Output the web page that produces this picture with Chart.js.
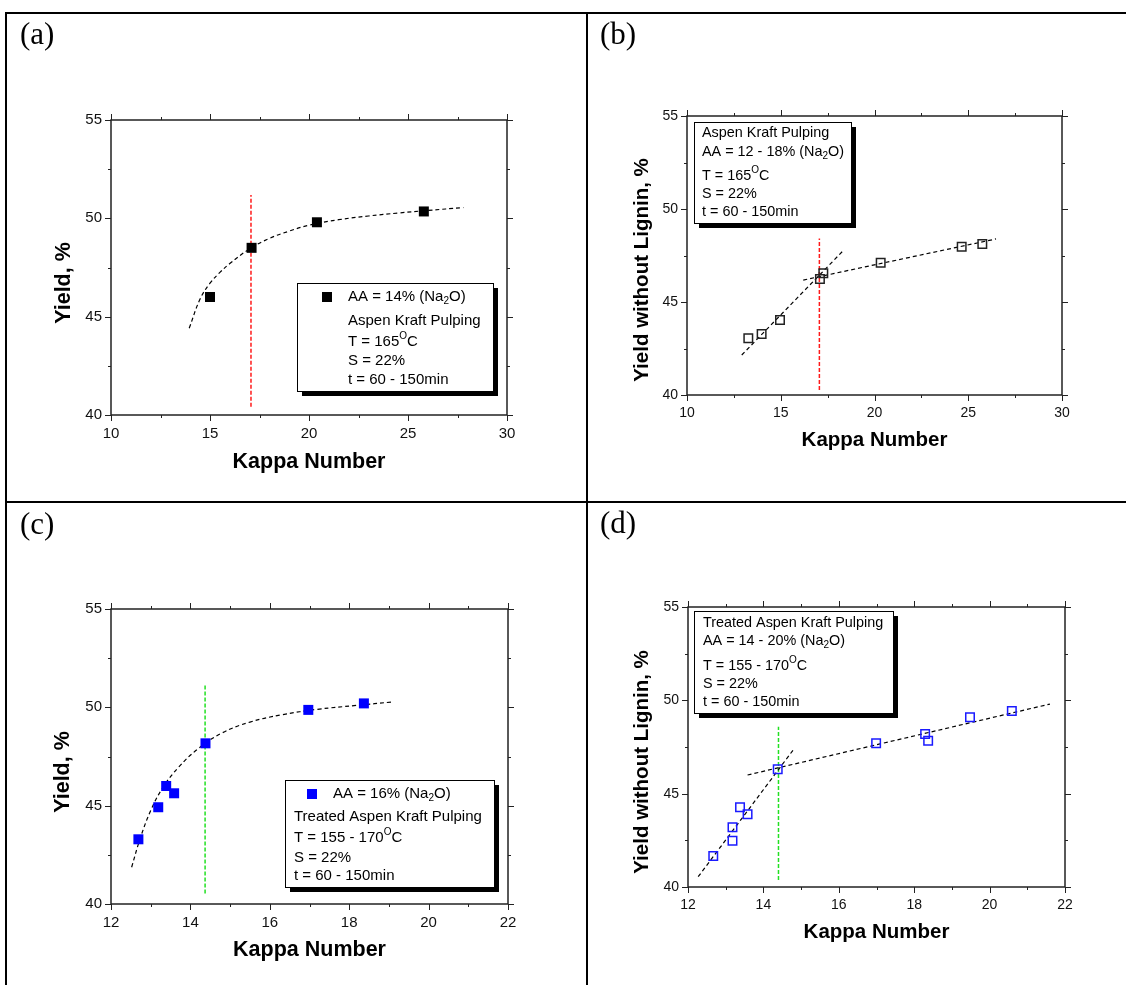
<!DOCTYPE html>
<html>
<head>
<meta charset="utf-8">
<script src="https://cdn.jsdelivr.net/npm/chart.js@4.4.0/dist/chart.umd.min.js"></script>
<style>
html, body { margin: 0; padding: 0; background: #fff; }
#page { position: relative; width: 1126px; height: 985px; overflow: hidden; background: #fff; }
#page canvas { position: absolute; left: 0; top: 0; }
.rule { position: absolute; background: #000; }
</style>
</head>
<body>
<div id="page">
  <div class="rule" style="left:5px;top:12px;width:1121px;height:2px"></div>
  <div class="rule" style="left:5px;top:12px;width:2px;height:973px"></div>
  <div class="rule" style="left:586px;top:12px;width:2px;height:973px"></div>
  <div class="rule" style="left:5px;top:501px;width:1121px;height:2px"></div>
  <canvas id="chartA" width="1126" height="985"></canvas>
  <canvas id="chartB" width="1126" height="985"></canvas>
  <canvas id="chartC" width="1126" height="985"></canvas>
  <canvas id="chartD" width="1126" height="985"></canvas>
</div>
<script>
// ---- data ----
var yTicks = [40, 45, 50, 55];
var xTicksAB = [10, 15, 20, 25, 30];
var xTicksCD = [12, 14, 16, 18, 20, 22];

// (a) yield vs kappa, AA = 14%
var kappaA = [15.0, 17.1, 20.4, 25.8];
var yieldA = [46.0, 48.5, 49.8, 50.35];
var fitKappaA = [13.95, 14.5, 15.0, 15.5, 16.0, 17.0, 18.0, 19.0, 20.0, 21.5, 23.0, 24.5, 26.0, 27.8];
var fitYieldA = [44.41, 45.9, 46.7, 47.25, 47.7, 48.45, 48.98, 49.35, 49.65, 49.93, 50.12, 50.27, 50.4, 50.55];
var markKappaA = [17.07, 17.07];
var markYieldA = [40.42, 51.19];

// (b) yield without lignin, AA = 12 - 18%
var kappaB = [13.27, 13.98, 14.96, 17.09, 17.27, 20.33, 24.65, 25.75];
var yieldB = [43.05, 43.28, 44.03, 46.24, 46.54, 47.11, 47.97, 48.12];
var steepKappaB = [12.92, 18.37];
var steepYieldB = [42.15, 47.8];
var flatKappaB = [16.2, 26.48];
var flatYieldB = [46.18, 48.39];
var markKappaB = [17.06, 17.06];
var markYieldB = [40.27, 48.42];

// (c) treated aspen, AA = 16%
var kappaC = [12.69, 13.19, 13.39, 13.59, 14.38, 16.97, 18.37];
var yieldC = [43.29, 44.92, 46.0, 45.63, 48.17, 49.87, 50.2];
var fitKappaC = [12.52, 12.73, 13.0, 13.3, 13.7, 14.2, 14.8, 15.5, 16.3, 17.2, 18.2, 19.07];
var fitYieldC = [41.87, 43.3, 44.75, 45.9, 46.95, 47.9, 48.7, 49.25, 49.62, 49.9, 50.1, 50.27];
var markKappaC = [14.37, 14.37];
var markYieldC = [40.54, 51.14];

// (d) treated aspen, yield without lignin, AA = 14 - 20%
var kappaD = [12.67, 13.18, 13.18, 13.38, 13.58, 14.38, 16.99, 18.29, 18.37, 19.48, 20.59];
var yieldD = [41.66, 42.48, 43.2, 44.27, 43.9, 46.31, 47.7, 48.2, 47.84, 49.09, 49.43];
var steepKappaD = [12.27, 14.79];
var steepYieldD = [40.55, 47.34];
var flatKappaD = [13.58, 21.6];
var flatYieldD = [46.0, 49.8];
var markKappaD = [14.40, 14.40];
var markYieldD = [40.38, 48.59];

// ---- layout (page pixels) ----
var PAGE_W = 1126, PAGE_H = 985;
var Y_AXIS_W = 50, X_AXIS_H = 30;
var FONT = '"Liberation Sans", Arial, sans-serif';
Chart.defaults.font.family = FONT;

var deco = {
  chartA: {
    area: {l: 111, t: 120, r: 507, b: 415},
    tickSize: 15, titleSize: 21.5, textSize: 15,
    tag: '(a)', tagX: 20, tagY: 44,
    yTitle: 'Yield, %', yTitleX: 64, yTitleY: 283, xTitleY: 462,
    box: {l: 297, t: 283, r: 493, b: 391},
    marker: {x: 327, y: 297, color: '#000'},
    lines: [
      {x: 348, y: 297, parts: [['AA = 14% (Na'], ['2', 'sub'], ['O)']]},
      {x: 348, y: 321, parts: [['Aspen Kraft Pulping']]},
      {x: 348, y: 342, parts: [['T = 165'], ['O', 'sup'], ['C']]},
      {x: 348, y: 361, parts: [['S = 22%']]},
      {x: 348, y: 380, parts: [['t = 60 - 150min']]}
    ]
  },
  chartB: {
    area: {l: 687, t: 116, r: 1062, b: 395},
    tickSize: 14, titleSize: 20.5, textSize: 14.4,
    tag: '(b)', tagX: 600, tagY: 44,
    yTitle: 'Yield without Lignin, %', yTitleX: 642, yTitleY: 270, xTitleY: 440,
    box: {l: 694, t: 122, r: 851, b: 223},
    lines: [
      {x: 702, y: 133, parts: [['Aspen Kraft Pulping']]},
      {x: 702, y: 152, parts: [['AA = 12 - 18% (Na'], ['2', 'sub'], ['O)']]},
      {x: 702, y: 176, parts: [['T = 165'], ['O', 'sup'], ['C']]},
      {x: 702, y: 194, parts: [['S = 22%']]},
      {x: 702, y: 212, parts: [['t = 60 - 150min']]}
    ]
  },
  chartC: {
    area: {l: 111, t: 609, r: 508, b: 904},
    tickSize: 15, titleSize: 21.5, textSize: 15,
    tag: '(c)', tagX: 20, tagY: 534,
    yTitle: 'Yield, %', yTitleX: 63, yTitleY: 772, xTitleY: 950,
    box: {l: 285, t: 780, r: 494, b: 887},
    marker: {x: 312, y: 794, color: '#0000ff'},
    lines: [
      {x: 333, y: 794, parts: [['AA = 16% (Na'], ['2', 'sub'], ['O)']]},
      {x: 294, y: 817, parts: [['Treated Aspen Kraft Pulping']]},
      {x: 294, y: 838, parts: [['T = 155 - 170'], ['O', 'sup'], ['C']]},
      {x: 294, y: 858, parts: [['S = 22%']]},
      {x: 294, y: 876, parts: [['t = 60 - 150min']]}
    ]
  },
  chartD: {
    area: {l: 688, t: 607, r: 1065, b: 887},
    tickSize: 14, titleSize: 20.5, textSize: 14.4,
    tag: '(d)', tagX: 600, tagY: 533,
    yTitle: 'Yield without Lignin, %', yTitleX: 642, yTitleY: 762, xTitleY: 932,
    box: {l: 694, t: 611, r: 893, b: 713},
    lines: [
      {x: 703, y: 623, parts: [['Treated Aspen Kraft Pulping']]},
      {x: 703, y: 641, parts: [['AA = 14 - 20% (Na'], ['2', 'sub'], ['O)']]},
      {x: 703, y: 666, parts: [['T = 155 - 170'], ['O', 'sup'], ['C']]},
      {x: 703, y: 684, parts: [['S = 22%']]},
      {x: 703, y: 702, parts: [['t = 60 - 150min']]}
    ]
  }
};

function xy(xs, ys) {
  return xs.map(function(x, i) { return {x: x, y: ys[i]}; });
}

function richText(ctx, parts, x, y, size) {
  parts.forEach(function(p) {
    var small = !!p[1];
    ctx.font = (small ? Math.round(size * 0.68) : size) + 'px ' + FONT;
    var dy = p[1] === 'sub' ? 4 : (p[1] === 'sup' ? -6 : 0);
    ctx.fillText(p[0], x, y + dy);
    x += ctx.measureText(p[0]).width;
  });
}

var panelDeco = {
  id: 'panelDeco',
  afterDraw: function(chart) {
    var d = deco[chart.canvas.id];
    var ctx = chart.ctx, a = chart.chartArea;
    var xs = chart.scales.x, ys = chart.scales.y;
    ctx.save();

    // frame
    ctx.strokeStyle = '#222';
    ctx.lineWidth = 1.5;
    ctx.strokeRect(a.left, a.top, a.right - a.left, a.bottom - a.top);

    // major + minor ticks on all four sides, pointing out
    ctx.lineWidth = 1;
    ctx.beginPath();
    var xv = xs.ticks.map(function(t) { return t.value; });
    var yv = ys.ticks.map(function(t) { return t.value; });
    function xTick(v, len) {
      var p = Math.round(xs.getPixelForValue(v)) + 0.5;
      ctx.moveTo(p, a.bottom); ctx.lineTo(p, a.bottom + len);
      ctx.moveTo(p, a.top); ctx.lineTo(p, a.top - len);
    }
    function yTick(v, len) {
      var p = Math.round(ys.getPixelForValue(v)) + 0.5;
      ctx.moveTo(a.left, p); ctx.lineTo(a.left - len, p);
      ctx.moveTo(a.right, p); ctx.lineTo(a.right + len, p);
    }
    xv.forEach(function(v, i) {
      xTick(v, 6);
      if (i < xv.length - 1) xTick((v + xv[i + 1]) / 2, 3);
    });
    yv.forEach(function(v, i) {
      yTick(v, 6);
      if (i < yv.length - 1) yTick((v + yv[i + 1]) / 2, 3);
    });
    ctx.stroke();

    // panel tag
    ctx.fillStyle = '#000';
    ctx.font = '31px "Liberation Serif", "Times New Roman", serif';
    ctx.textAlign = 'left';
    ctx.textBaseline = 'alphabetic';
    ctx.fillText(d.tag, d.tagX, d.tagY);

    // axis titles
    ctx.font = 'bold ' + d.titleSize + 'px ' + FONT;
    ctx.textAlign = 'center';
    ctx.textBaseline = 'middle';
    ctx.fillText('Kappa Number', (a.left + a.right) / 2, d.xTitleY);
    ctx.save();
    ctx.translate(d.yTitleX, d.yTitleY);
    ctx.rotate(-Math.PI / 2);
    ctx.fillText(d.yTitle, 0, 0);
    ctx.restore();

    // legend box with shadow
    var b = d.box;
    ctx.fillStyle = '#000';
    ctx.fillRect(b.l + 5, b.t + 5, b.r - b.l, b.b - b.t);
    ctx.fillStyle = '#fff';
    ctx.fillRect(b.l, b.t, b.r - b.l, b.b - b.t);
    ctx.strokeStyle = '#000';
    ctx.lineWidth = 1;
    ctx.strokeRect(b.l + 0.5, b.t + 0.5, b.r - b.l, b.b - b.t);
    if (d.marker) {
      ctx.fillStyle = d.marker.color;
      ctx.fillRect(d.marker.x - 5, d.marker.y - 5, 10, 10);
    }
    ctx.fillStyle = '#000';
    ctx.textAlign = 'left';
    ctx.textBaseline = 'middle';
    d.lines.forEach(function(ln) { richText(ctx, ln.parts, ln.x, ln.y, d.textSize); });

    ctx.restore();
  }
};

function scaleSet(xTicks, size) {
  return {
    x: {
      type: 'linear', min: xTicks[0], max: xTicks[xTicks.length - 1],
      afterBuildTicks: function(s) { s.ticks = xTicks.map(function(v) { return {value: v}; }); },
      ticks: {color: '#111', font: {size: size}, padding: 10, maxRotation: 0, autoSkip: false},
      grid: {display: false, drawTicks: false},
      border: {display: false},
      afterFit: function(s) { s.height = X_AXIS_H; }
    },
    y: {
      type: 'linear', min: yTicks[0], max: yTicks[yTicks.length - 1],
      afterBuildTicks: function(s) { s.ticks = yTicks.map(function(v) { return {value: v}; }); },
      ticks: {color: '#111', font: {size: size}, padding: 9, autoSkip: false},
      grid: {display: false, drawTicks: false},
      border: {display: false},
      afterFit: function(s) { s.width = Y_AXIS_W; }
    }
  };
}

function pointSet(data, filled, color) {
  return {
    data: data,
    pointStyle: 'rect',
    pointRadius: filled ? 7.07 : 6.0,
    pointHoverRadius: filled ? 7.07 : 6.0,
    backgroundColor: filled ? color : 'rgba(0,0,0,0)',
    borderColor: color,
    borderWidth: filled ? 0 : 1.5,
    showLine: false
  };
}

function lineSet(data, color, dash, width, smooth) {
  return {
    data: data,
    showLine: true,
    borderColor: color,
    borderWidth: width,
    borderDash: dash,
    pointRadius: 0,
    pointHoverRadius: 0,
    fill: false,
    tension: smooth ? 0.4 : 0
  };
}

function makeChart(id, xTicks, datasets) {
  var d = deco[id], ar = d.area;
  new Chart(document.getElementById(id).getContext('2d'), {
    type: 'scatter',
    data: {datasets: datasets},
    options: {
      responsive: false,
      animation: false,
      devicePixelRatio: 1,
      layout: {padding: {left: ar.l - Y_AXIS_W, top: ar.t, right: PAGE_W - ar.r, bottom: PAGE_H - ar.b - X_AXIS_H}},
      plugins: {legend: {display: false}, tooltip: {enabled: false}},
      scales: scaleSet(xTicks, d.tickSize)
    },
    plugins: [panelDeco]
  });
}

makeChart('chartA', xTicksAB, [
  pointSet(xy(kappaA, yieldA), true, '#000'),
  lineSet(xy(fitKappaA, fitYieldA), '#000', [4, 3], 1.2, true),
  lineSet(xy(markKappaA, markYieldA), '#ff1a1a', [4, 2], 1.5, false)
]);
makeChart('chartB', xTicksAB, [
  pointSet(xy(kappaB, yieldB), false, '#222'),
  lineSet(xy(steepKappaB, steepYieldB), '#000', [4, 3], 1.2, false),
  lineSet(xy(flatKappaB, flatYieldB), '#000', [4, 3], 1.2, false),
  lineSet(xy(markKappaB, markYieldB), '#ff1a1a', [4, 2], 1.5, false)
]);
makeChart('chartC', xTicksCD, [
  pointSet(xy(kappaC, yieldC), true, '#0000ff'),
  lineSet(xy(fitKappaC, fitYieldC), '#000', [4, 3], 1.2, true),
  lineSet(xy(markKappaC, markYieldC), '#22e022', [4, 2], 1.5, false)
]);
makeChart('chartD', xTicksCD, [
  pointSet(xy(kappaD, yieldD), false, '#1a1aff'),
  lineSet(xy(steepKappaD, steepYieldD), '#000', [4, 3], 1.2, false),
  lineSet(xy(flatKappaD, flatYieldD), '#000', [4, 3], 1.2, false),
  lineSet(xy(markKappaD, markYieldD), '#22e022', [4, 2], 1.5, false)
]);
</script>
</body>
</html>
